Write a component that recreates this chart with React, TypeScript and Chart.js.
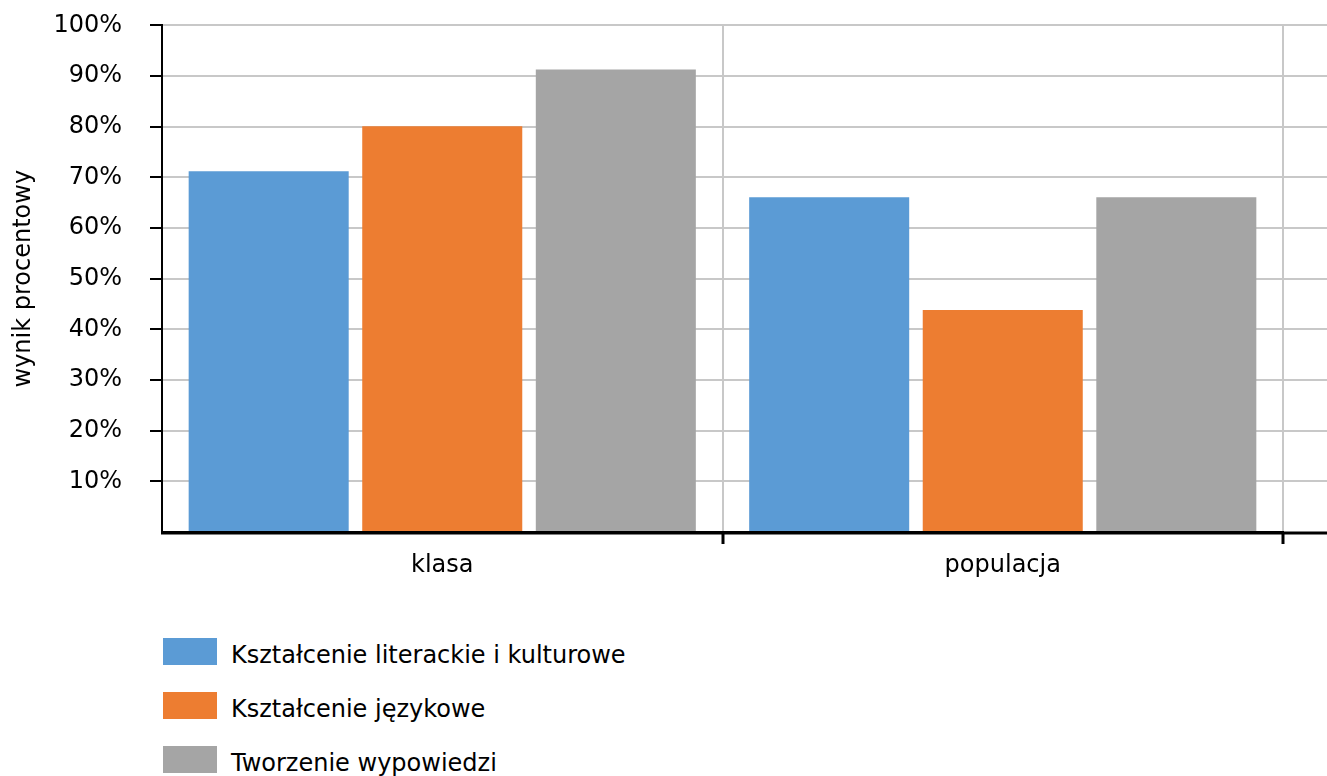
import React, { useEffect, useRef } from 'react';
import { Chart, registerables } from 'chart.js';

Chart.register(...registerables);

const categories = ['klasa', 'populacja'];
const seriesNames = ['Kształcenie literackie i kulturowe', 'Kształcenie językowe', 'Tworzenie wypowiedzi'];
const literackieValues = [71.2, 66.1];
const jezykoweValues = [80.1, 43.8];
const wypowiedziValues = [91.3, 66.1];
const seriesColors = ['#5B9BD5', '#ED7D31', '#A5A5A5'];
const yMin = 0;
const yMax = 100;
const yStep = 10;
const yAxisTitle = 'wynik procentowy';

const FONT = 'DejaVu Sans';
const FONT_SIZE = 24;
const GRID = '#C8C8C8';
const CLEAR = 'rgba(0,0,0,0)';

const extendGrid = {
  id: 'extendGrid',
  beforeDatasetsDraw(chart: any) {
    const { ctx, chartArea, scales } = chart;
    const y = scales.y;
    ctx.save();
    ctx.strokeStyle = GRID;
    ctx.lineWidth = 2;
    y.ticks.forEach((t: any) => {
      if (t.value === 0) return;
      const py = Math.round(y.getPixelForValue(t.value));
      ctx.beginPath();
      ctx.moveTo(chartArea.right, py);
      ctx.lineTo(chart.width, py);
      ctx.stroke();
    });
    ctx.restore();
  },
  afterDatasetsDraw(chart: any) {
    const { ctx, chartArea } = chart;
    ctx.save();
    ctx.strokeStyle = '#000';
    ctx.lineWidth = 3;
    const py = chartArea.bottom + 1;
    ctx.beginPath();
    ctx.moveTo(chartArea.left - 1, py);
    ctx.lineTo(chart.width, py);
    ctx.stroke();
    ctx.restore();
  },
};

export default function App() {
  const canvasRef = useRef<HTMLCanvasElement | null>(null);

  useEffect(() => {
    if (!canvasRef.current) return;
    Chart.defaults.font.family = FONT;
    Chart.defaults.font.size = FONT_SIZE;
    Chart.defaults.color = '#000';
    const values = [literackieValues, jezykoweValues, wypowiedziValues];
    const chart = new Chart(canvasRef.current, {
      type: 'bar',
      data: {
        labels: categories,
        datasets: seriesNames.map((name, i) => ({
          label: name,
          data: values[i],
          backgroundColor: seriesColors[i],
          borderWidth: 0,
          categoryPercentage: 0.929,
          barPercentage: 0.922,
        })),
      },
      plugins: [extendGrid],
      options: {
        animation: false,
        responsive: true,
        maintainAspectRatio: false,
        layout: { padding: { top: 0, right: 44, left: 0, bottom: 0 } },
        plugins: {
          legend: { display: false },
          tooltip: { enabled: false },
        },
        scales: {
          x: {
            offset: true,
            afterFit: (s: any) => { s.height = 68; },
            grid: {
              offset: true,
              color: (c: any) => (c.index === 0 ? CLEAR : GRID),
              lineWidth: 2,
              tickLength: 12,
              tickColor: (c: any) => (c.index === 0 ? CLEAR : '#000'),
              tickWidth: 3,
            },
            border: { display: true, color: '#000', width: 3 },
            ticks: { padding: 7, color: '#000', font: { family: FONT, size: FONT_SIZE } },
          },
          y: {
            min: yMin,
            max: yMax,
            afterFit: (s: any) => { s.width = 162; },
            grid: {
              color: (c: any) => (c.tick && c.tick.value === 0 ? CLEAR : GRID),
              lineWidth: 2,
              tickLength: 12,
              tickColor: (c: any) => (c.tick && c.tick.value === 0 ? CLEAR : '#000'),
              tickWidth: 2,
            },
            border: { display: true, color: '#000', width: 2 },
            ticks: {
              stepSize: yStep,
              padding: 28,
              color: '#000',
              font: { family: FONT, size: FONT_SIZE },
              callback: (v: any) => (Number(v) === 0 ? '' : `${v}%`),
            },
            title: {
              display: true,
              text: yAxisTitle,
              color: '#000',
              font: { family: FONT, size: FONT_SIZE },
              padding: { top: 9, bottom: 0 },
            },
          },
        },
      },
    });
    return () => chart.destroy();
  }, []);

  return (
    <div style={{ position: 'absolute', left: 0, top: 0, width: 1327, height: 776, background: '#fff', overflow: 'hidden' }}>
      <div style={{ position: 'absolute', left: 0, top: -17, width: 1327, height: 617 }}>
        <canvas ref={canvasRef} />
      </div>
      <div style={{ position: 'absolute', left: 163, top: 638, fontFamily: FONT, fontSize: FONT_SIZE, color: '#000' }}>
        {seriesNames.map((name, i) => (
          <div key={name} style={{ display: 'flex', alignItems: 'center', height: 27, marginBottom: 27, whiteSpace: 'nowrap' }}>
            <span style={{ display: 'inline-block', width: 54, height: 27, background: seriesColors[i] }} />
            <span style={{ marginLeft: 14, position: 'relative', top: 4, lineHeight: 1.2 }}>{name}</span>
          </div>
        ))}
      </div>
    </div>
  );
}
